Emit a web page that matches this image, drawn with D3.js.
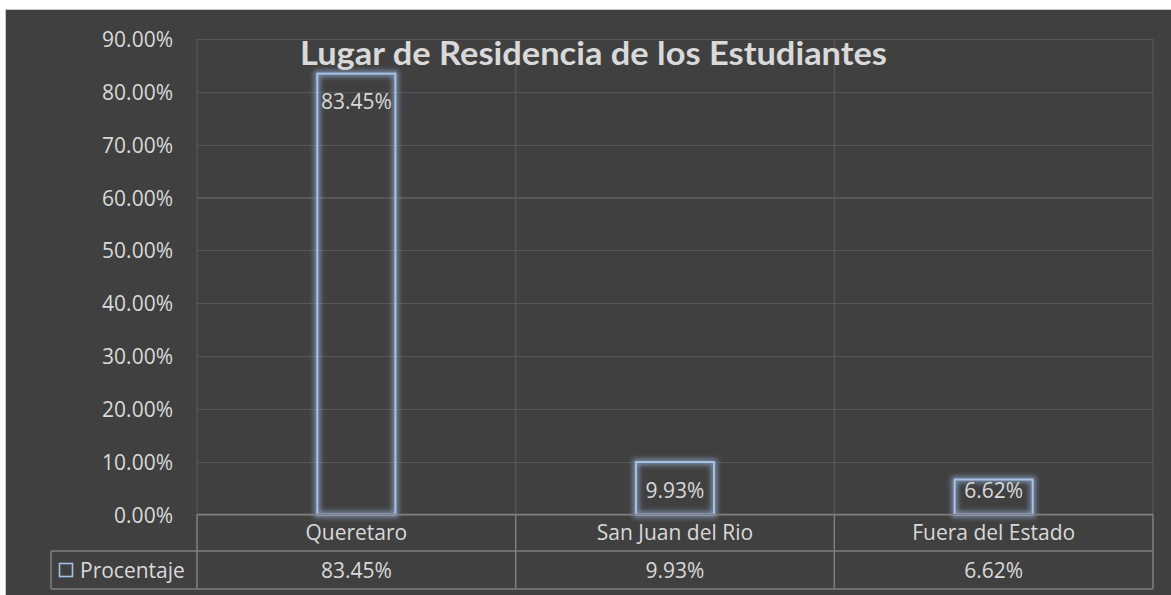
<!DOCTYPE html>
<html>
<head>
<meta charset="utf-8">
<script src="https://cdn.jsdelivr.net/npm/d3@7"></script>
<style>
  html, body { margin: 0; padding: 0; background: #ffffff; }
  svg { display: block; }
</style>
</head>
<body>
<svg id="chart" width="1171" height="595"></svg>
<script>
// ---- data ----
const categories = ["Queretaro", "San Juan del Rio", "Fuera del Estado"];
const values = [0.8345, 0.0993, 0.0662];
const seriesName = "Procentaje";
const yTicks = [0, 0.1, 0.2, 0.3, 0.4, 0.5, 0.6, 0.7, 0.8, 0.9];
const title = "Lugar de Residencia de los Estudiantes";

// ---- layout ----
const W = 1171, H = 595;
const plot = { left: 197, right: 1153, top: 39, bottom: 514.5 };
const row1Bottom = 551, row2Bottom = 589, legendLeft = 51;
const bg = "#404040", grid = "#575757", tableLine = "#7f7f7f", txt = "#d9d9d9", barStroke = "#a7c1e6";
const font = "'Open Sans', 'Noto Sans', sans-serif";
const fmt = d3.format(".2%");

const svg = d3.select("#chart");
const defs = svg.append("defs");
const f = defs.append("filter").attr("id", "glow")
  .attr("x", "-50%").attr("y", "-50%").attr("width", "200%").attr("height", "200%");
f.append("feGaussianBlur").attr("stdDeviation", 2.6);

svg.append("rect").attr("x", 5.5).attr("y", 9.5).attr("width", W - 5).attr("height", H - 9)
  .attr("fill", bg).attr("stroke", "#c8c8c8").attr("stroke-width", 1);

const x = d3.scaleBand().domain(categories).range([plot.left, plot.right]).padding(0);
const y = d3.scaleLinear().domain([0, 0.9]).range([plot.bottom, plot.top]);

// horizontal gridlines
svg.append("g").attr("transform", `translate(${plot.left},0)`)
  .call(d3.axisLeft(y).tickValues(yTicks).tickSize(-(plot.right - plot.left)).tickFormat(""))
  .call(g => g.select(".domain").remove())
  .call(g => g.selectAll("line").attr("stroke", grid).attr("stroke-width", 1.2)
     .attr("shape-rendering", "crispEdges"));

// vertical gridlines at category boundaries
const bounds = categories.map(c => x(c)).concat([plot.right]);
svg.append("g").selectAll("line").data(bounds).join("line")
  .attr("x1", d => d).attr("x2", d => d).attr("y1", plot.top).attr("y2", plot.bottom)
  .attr("stroke", grid).attr("stroke-width", 1.2);

// y axis labels
svg.append("g").attr("transform", `translate(${plot.left},0)`)
  .call(d3.axisLeft(y).tickValues(yTicks).tickSize(0).tickPadding(24).tickFormat(fmt))
  .call(g => g.select(".domain").remove())
  .call(g => g.selectAll("text").attr("fill", txt).attr("font-family", font)
     .attr("font-size", 21).attr("dy", "0.36em"));

// title
svg.append("text").attr("x", 300).attr("y", 65)
  .attr("font-family", "Lato, 'Open Sans', sans-serif").attr("font-weight", 700).attr("font-size", 32)
  .attr("fill", txt).attr("textLength", 587).attr("lengthAdjust", "spacingAndGlyphs")
  .text(title);

// bars
const bw = x.bandwidth() * 0.245;
const bars = svg.append("g");
bars.selectAll("rect.glow").data(values).join("rect").attr("class", "glow")
  .attr("x", (d, i) => x(categories[i]) + x.bandwidth() / 2 - bw / 2)
  .attr("y", d => y(d)).attr("width", bw).attr("height", d => y(0) - y(d))
  .attr("fill", "none").attr("stroke", "#8ea6c8").attr("stroke-opacity", 0.75).attr("stroke-width", 6)
  .attr("filter", "url(#glow)");
bars.selectAll("rect.bar").data(values).join("rect").attr("class", "bar")
  .attr("x", (d, i) => x(categories[i]) + x.bandwidth() / 2 - bw / 2)
  .attr("y", d => y(d)).attr("width", bw).attr("height", d => y(0) - y(d))
  .attr("fill", "none").attr("stroke", barStroke).attr("stroke-width", 2);

// data labels
svg.append("g").selectAll("text").data(values).join("text")
  .attr("x", (d, i) => x(categories[i]) + x.bandwidth() / 2)
  .attr("y", d => Math.min(y(d) + 35.5, y(0) - 17))
  .attr("text-anchor", "middle").attr("font-family", font).attr("font-size", 21).attr("fill", txt)
  .text(d => fmt(d));

// data table
const tbl = svg.append("g").attr("stroke", tableLine).attr("stroke-width", 1.5).attr("fill", "none");
tbl.append("line").attr("x1", plot.left).attr("x2", plot.right).attr("y1", plot.bottom).attr("y2", plot.bottom);
tbl.append("line").attr("x1", legendLeft).attr("x2", plot.right).attr("y1", row1Bottom).attr("y2", row1Bottom);
tbl.append("line").attr("x1", legendLeft).attr("x2", plot.right).attr("y1", row2Bottom).attr("y2", row2Bottom);
tbl.append("line").attr("x1", legendLeft).attr("x2", legendLeft).attr("y1", row1Bottom).attr("y2", row2Bottom);
tbl.selectAll("line.v").data(bounds).join("line").attr("class", "v")
  .attr("x1", d => d).attr("x2", d => d).attr("y1", plot.bottom).attr("y2", row2Bottom);

svg.append("g").selectAll("text").data(categories).join("text")
  .attr("x", d => x(d) + x.bandwidth() / 2).attr("y", (plot.bottom + row1Bottom) / 2)
  .attr("dy", "0.36em").attr("text-anchor", "middle")
  .attr("font-family", font).attr("font-size", 21).attr("fill", txt).text(d => d);

svg.append("g").selectAll("text").data(values).join("text")
  .attr("x", (d, i) => x(categories[i]) + x.bandwidth() / 2).attr("y", (row1Bottom + row2Bottom) / 2)
  .attr("dy", "0.36em").attr("text-anchor", "middle")
  .attr("font-family", font).attr("font-size", 21).attr("fill", txt).text(d => fmt(d));

// legend key
svg.append("rect").attr("x", 59.5).attr("y", 563.5).attr("width", 13).attr("height", 13)
  .attr("fill", "none").attr("stroke", barStroke).attr("stroke-width", 1.6);
svg.append("text").attr("x", 80).attr("y", (row1Bottom + row2Bottom) / 2).attr("dy", "0.36em")
  .attr("font-family", font).attr("font-size", 21).attr("fill", txt).text(seriesName);
</script>
</body>
</html>
